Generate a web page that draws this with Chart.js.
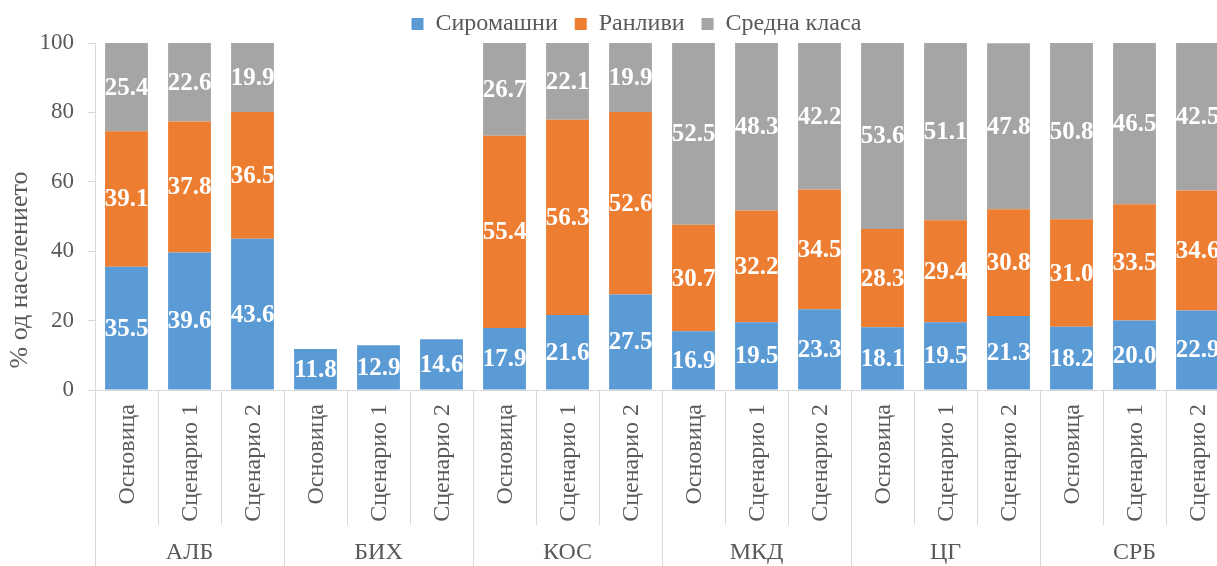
<!DOCTYPE html>
<html>
<head>
<meta charset="utf-8">
<script src="https://cdn.jsdelivr.net/npm/chart.js@4"></script>
<style>
  html, body { margin: 0; padding: 0; background: #fff; overflow: hidden; }
  #wrap { width: 1217px; height: 566px; overflow: hidden; }
</style>
</head>
<body>
<div id="wrap"><canvas id="myChart" width="1272" height="566"></canvas></div>
<script>
const groups = ['АЛБ', 'БИХ', 'КОС', 'МКД', 'ЦГ', 'СРБ']
const scenarios = ['Основица', 'Сценарио 1', 'Сценарио 2']
const poor = [35.5, 39.6, 43.6, 11.8, 12.9, 14.6, 17.9, 21.6, 27.5, 16.9, 19.5, 23.3, 18.1, 19.5, 21.3, 18.2, 20.0, 22.9]
const vulnerable = [39.1, 37.8, 36.5, null, null, null, 55.4, 56.3, 52.6, 30.7, 32.2, 34.5, 28.3, 29.4, 30.8, 31.0, 33.5, 34.6]
const middle = [25.4, 22.6, 19.9, null, null, null, 26.7, 22.1, 19.9, 52.5, 48.3, 42.2, 53.6, 51.1, 47.8, 50.8, 46.5, 42.5]
const yTicks = [0, 20, 40, 60, 80, 100]
const yTitle = '% од населението'

const FONT = "'Liberation Serif', 'Times New Roman', serif"
const TXT = '#595959'
const LINE = '#d9d9d9'

const labels = []
groups.forEach(g => scenarios.forEach(s => labels.push(s)))

// fixed legend height, and centre it on the whole chart rather than the padded box
const legendFix = {
    id: 'legendFix',
    beforeUpdate(chart) {
        const lg = chart.legend
        if (lg && !lg._fixed) {
            const fit = lg.fit
            lg.fit = function () {
                fit.call(this)
                this.height = 48
            }
            lg._fixed = true
        }
    },
    afterLayout(chart) {
        chart.legend.left += 22
        chart.legend.right += 22
    },
}

// value labels in the middle of each segment
const valueLabels = {
    id: 'valueLabels',
    afterDatasetsDraw(chart) {
        const ctx = chart.ctx
        ctx.save()
        ctx.font = 'bold 25px ' + FONT
        ctx.fillStyle = '#fff'
        ctx.textAlign = 'center'
        ctx.textBaseline = 'middle'
        chart.data.datasets.forEach((ds, i) => {
            chart.getDatasetMeta(i).data.forEach((bar, j) => {
                const v = ds.data[j]
                if (v == null) return
                const p = bar.getProps(['x', 'y', 'base'], true)
                ctx.fillText(v.toFixed(1), p.x, (p.y + p.base) / 2 + 1)
            })
        })
        ctx.restore()
    },
}

// two-level category axis under the plot + y title
const groupAxis = {
    id: 'groupAxis',
    afterDraw(chart) {
        const ctx = chart.ctx
        const x = chart.scales.x
        const top = chart.chartArea.bottom
        const step = x.getPixelForValue(1) - x.getPixelForValue(0)
        ctx.save()
        ctx.strokeStyle = LINE
        ctx.lineWidth = 1
        for (let i = 0; i <= labels.length; i++) {
            const px = Math.round(x.getPixelForValue(i) - step / 2) + 0.5
            const end = i % 3 === 0 ? chart.height : top + 135
            ctx.beginPath()
            ctx.moveTo(px, top)
            ctx.lineTo(px, end)
            ctx.stroke()
        }
        ctx.fillStyle = TXT
        ctx.font = '24px ' + FONT
        labels.forEach((l, i) => {
            ctx.save()
            ctx.translate(x.getPixelForValue(i) + 1, top + 14)
            ctx.rotate(-Math.PI / 2)
            ctx.textAlign = 'right'
            ctx.textBaseline = 'middle'
            ctx.fillText(l, 0, 0)
            ctx.restore()
        })
        ctx.textAlign = 'center'
        ctx.textBaseline = 'middle'
        groups.forEach((g, k) => {
            ctx.fillText(g, x.getPixelForValue(k * 3 + 1), top + 163)
        })
        ctx.font = '26px ' + FONT
        ctx.translate(20, 270)
        ctx.rotate(-Math.PI / 2)
        ctx.fillText(yTitle, 0, 0)
        ctx.restore()
    },
}

function render_chart() {
    const data = {
        labels: labels,
        datasets: [
            { label: 'Сиромашни', data: poor, backgroundColor: '#5b9bd5' },
            { label: 'Ранливи', data: vulnerable, backgroundColor: '#ed7d31' },
            { label: 'Средна класа', data: middle, backgroundColor: '#a5a5a5' },
        ],
    }
    const config = {
        type: 'bar',
        data: data,
        options: {
            responsive: false,
            animation: false,
            datasets: { bar: { categoryPercentage: 1, barPercentage: 0.68 } },
            layout: { padding: { top: -5, right: 43, left: 0, bottom: 0 } },
            plugins: {
                legend: {
                    position: 'top',
                    labels: { boxWidth: 12, boxHeight: 12, color: TXT, font: { family: FONT, size: 24 }, padding: 17 },
                },
                tooltip: { enabled: false },
            },
            scales: {
                x: {
                    stacked: true,
                    ticks: { display: false },
                    grid: { display: false },
                    border: { color: LINE },
                    afterFit(s) { s.height = 176 },
                },
                y: {
                    stacked: true,
                    min: 0,
                    max: 100,
                    afterBuildTicks(s) { s.ticks = yTicks.map(v => ({ value: v })) },
                    ticks: { color: TXT, font: { family: FONT, size: 23 }, padding: 14 },
                    grid: { drawOnChartArea: false, tickLength: 7, color: LINE },
                    border: { color: LINE },
                    afterFit(s) { s.width = 95 },
                },
            },
        },
        plugins: [legendFix, valueLabels, groupAxis],
    }
    const myChart = new Chart(document.getElementById('myChart'), config)
}
document.addEventListener('DOMContentLoaded', render_chart)
</script>
</body>
</html>
